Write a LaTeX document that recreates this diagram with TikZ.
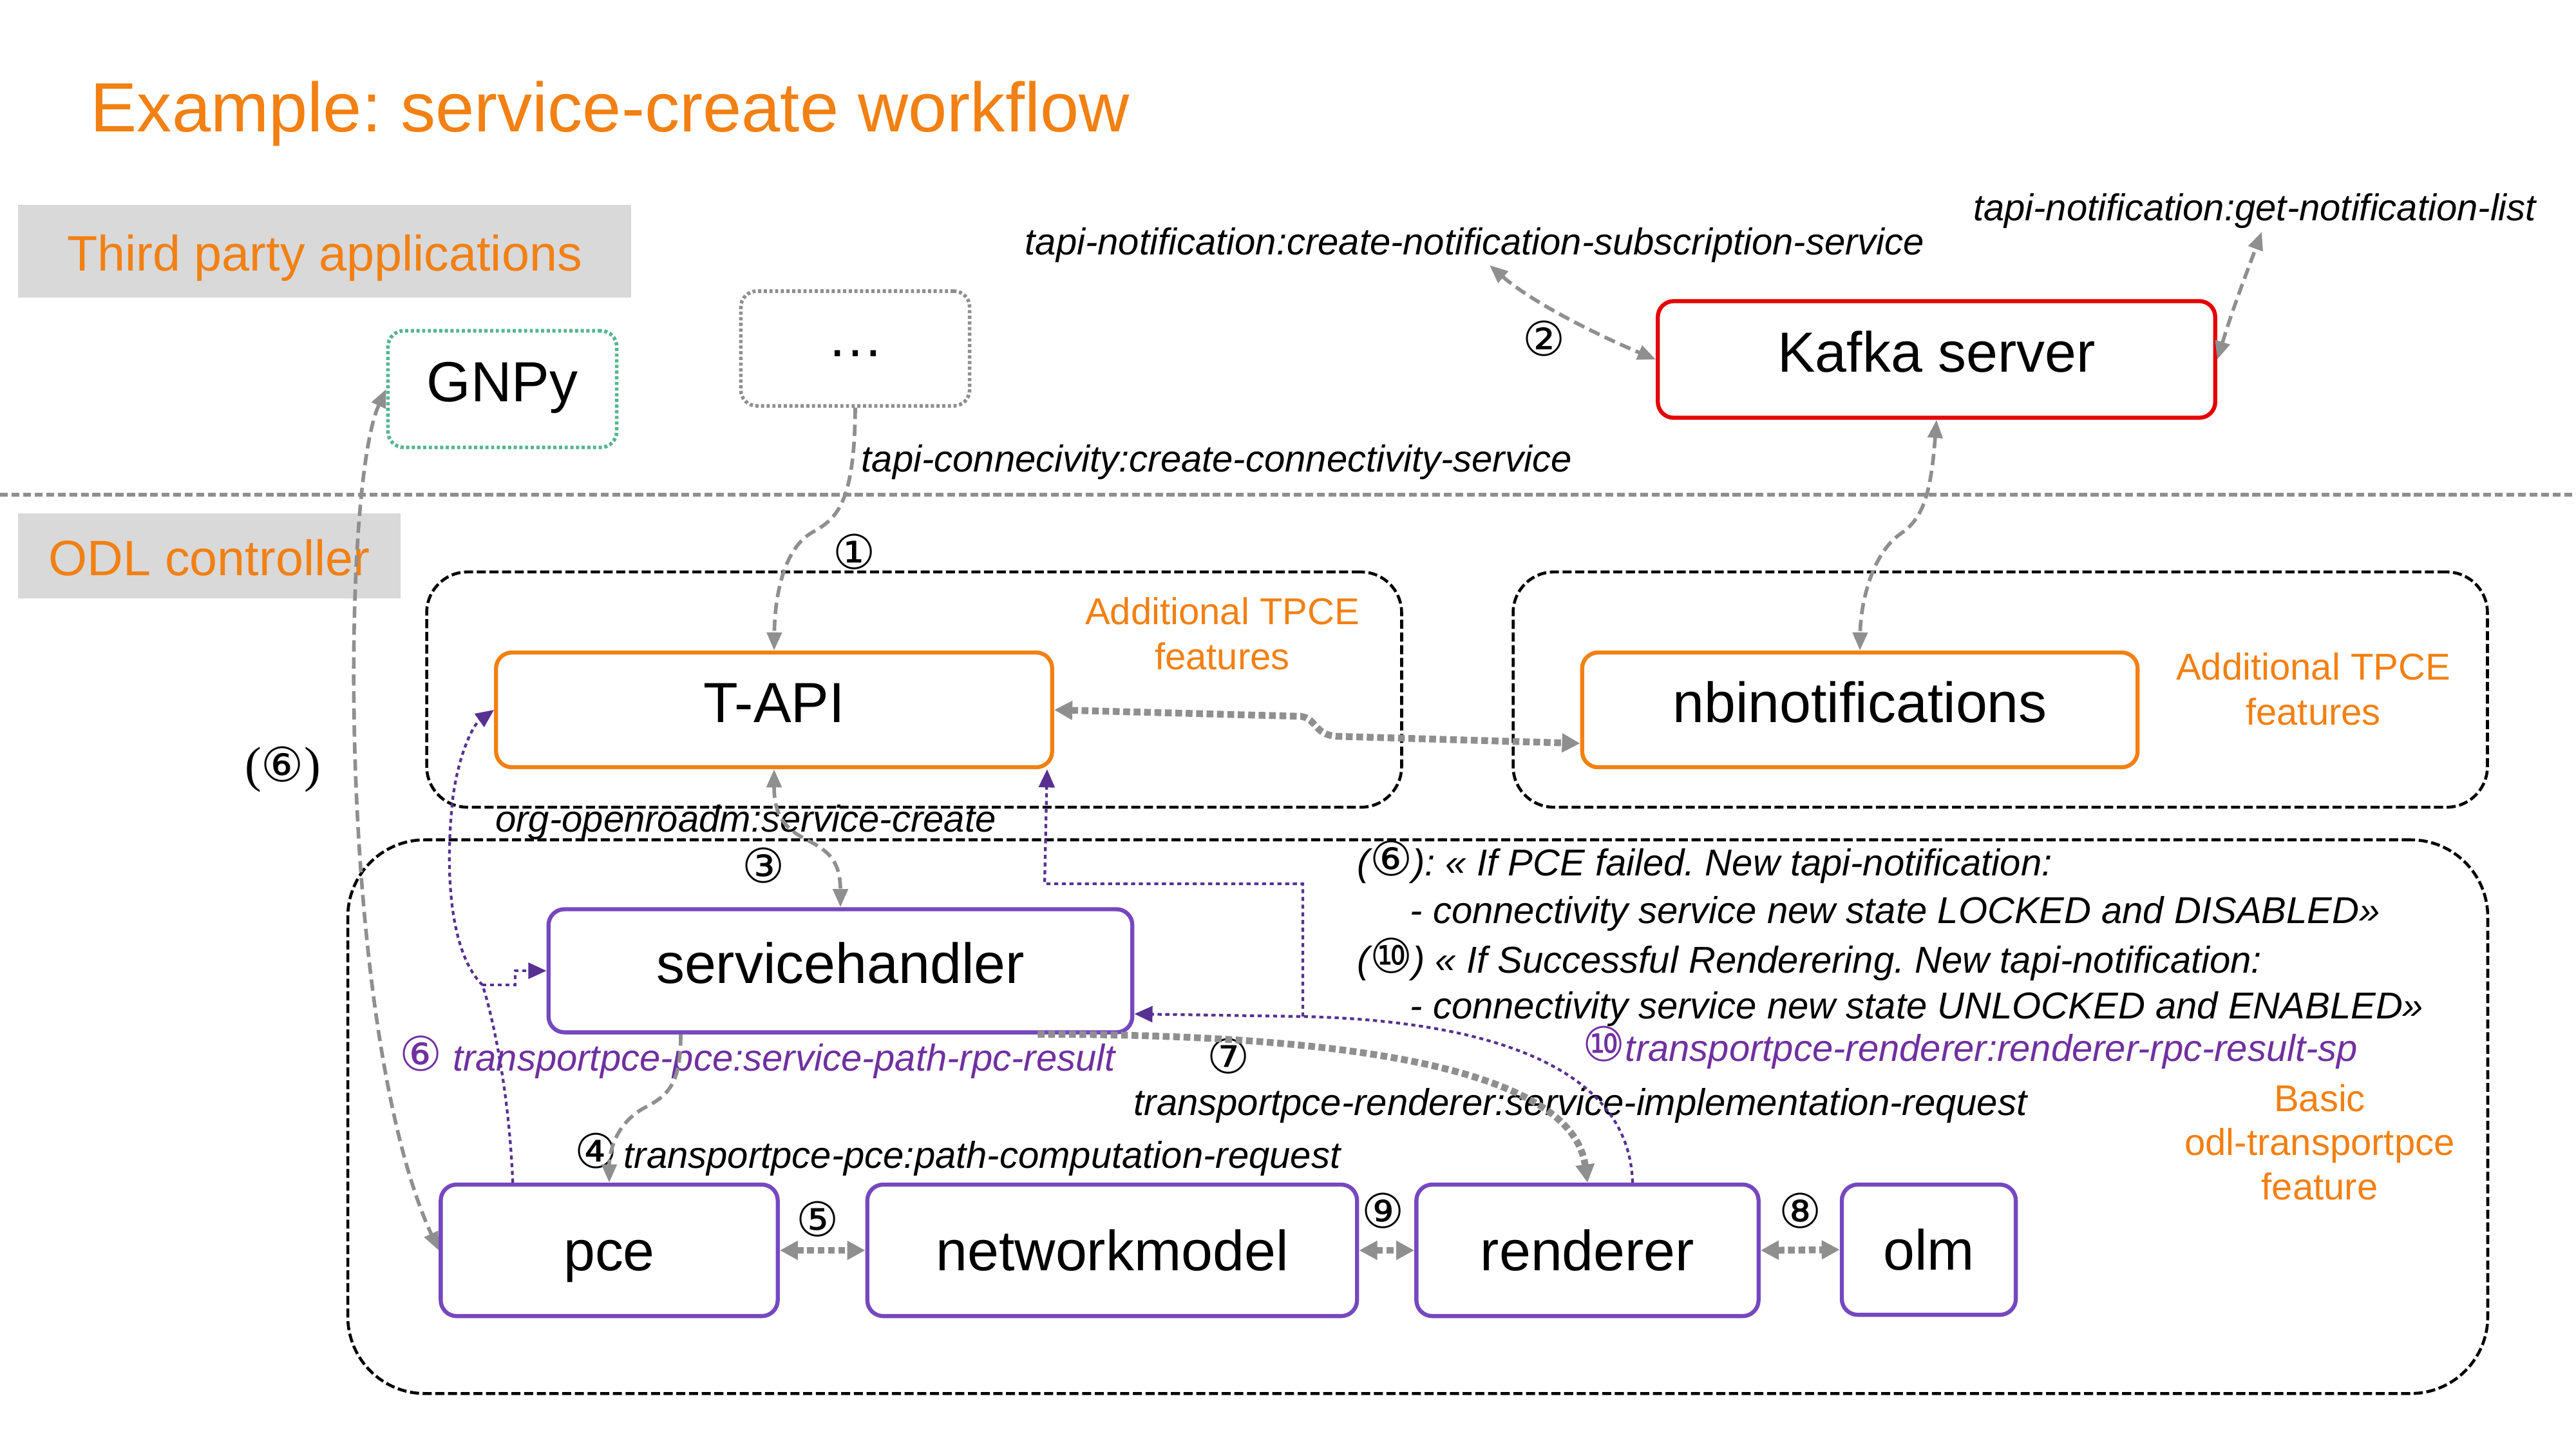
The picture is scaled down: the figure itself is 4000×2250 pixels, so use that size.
\documentclass[tikz,border=0pt]{standalone}
\usepackage{fontspec}
\setmainfont{Liberation Sans}
\newfontfamily\djv{DejaVu Sans}
\newfontfamily\serifpar{Liberation Serif}
\usetikzlibrary{arrows.meta,calc}
\frenchspacing
\definecolor{tporange}{RGB}{242,128,18}
\definecolor{tppurple}{RGB}{112,48,160}
\definecolor{boxpurple}{RGB}{118,72,190}
\definecolor{dpurple}{RGB}{88,48,145}
\definecolor{kred}{RGB}{228,0,0}
\definecolor{gngreen}{RGB}{84,182,142}
\definecolor{lgrey}{RGB}{143,143,143}
\definecolor{bggrey}{RGB}{217,217,217}
\newcommand{\circnum}[1]{{\djv\upshape\fontsize{21}{20}\selectfont #1}}
\tikzset{
  box/.style={draw, rounded corners=7pt, line width=1.8pt, fill=white, inner sep=0pt, text height=18.1pt, text depth=6.9pt, font=\fontsize{25}{30}\selectfont},
  lowbox/.style={box, draw=boxpurple, minimum height=2.04cm, text height=21.5pt, text depth=3.5pt},
  grp/.style={draw=black, line width=1.3pt, dash pattern=on 4pt off 1.6pt, rounded corners=18pt, inner sep=0pt},
  lbl/.style={inner sep=0pt, font=\fontsize{16.5}{20}\selectfont\itshape},
  num/.style={inner sep=0pt, font=\fontsize{21}{20}\selectfont\djv},
  otxt/.style={inner sep=0pt, text=tporange, align=center, font=\fontsize{16.5}{20}\selectfont},
  gconn/.style={draw=lgrey, line width=1.6pt, dash pattern=on 5pt off 2.5pt, >={Triangle[length=8pt,width=6.5pt]}},
  gthick/.style={draw=lgrey, line width=3pt, dash pattern=on 3pt off 1.6pt, >={Triangle[length=8pt,width=8pt]}},
  pdot/.style={draw=dpurple, line width=1.2pt, dash pattern=on 1.8pt off 1.6pt, >={Triangle[length=8pt,width=7pt]}},
  hdr/.style={fill=bggrey, inner sep=0pt, text=tporange, text height=19.6pt, text depth=2.4pt, font=\fontsize{22}{26}\selectfont}
}
\begin{document}
\begin{tikzpicture}[x=0.01cm,y=-0.01cm]
\useasboundingbox (0,0) rectangle (4000,2250);

% title and headers
\node[anchor=base west, inner sep=0pt, text=tporange, font=\fontsize{30.8}{36}\selectfont] (title) at (140,204) {Example: service-create workflow};
\node[hdr, minimum width=9.52cm, minimum height=1.43cm] (third) at (504,390) {Third party applications};
\node[hdr, minimum width=5.94cm, minimum height=1.31cm] (odl) at (325,863) {ODL controller};
\coordinate (sepL) at (0,768);
\coordinate (sepR) at (4000,768);
\draw[draw=lgrey, line width=1.6pt, dash pattern=on 3.5pt off 1.6pt] (sepL) -- (sepR);

% groups
\node[grp, minimum width=15.13cm, minimum height=3.65cm] (g1) at (1419.5,1070.5) {};
\node[grp, minimum width=15.12cm, minimum height=3.65cm] (g2) at (3106,1070.5) {};
\node[grp, rounded corners=34pt, minimum width=33.21cm, minimum height=8.59cm] (g3) at (2201.5,1733.5) {};

% top boxes
\node[box, draw=gngreen, dash pattern=on 1.4pt off 1.1pt, line width=1.6pt, minimum width=3.55cm, minimum height=1.81cm] (gnpy) at (780,604) {GNPy};
\node[box, draw=lgrey, dash pattern=on 1.4pt off 1.1pt, line width=1.6pt, minimum width=3.55cm, minimum height=1.78cm] (dots) at (1328,541) {\raisebox{2pt}{…}};
\node[box, draw=kred, minimum width=8.65cm, minimum height=1.81cm] (kafka) at (3007,558) {Kafka server};

% odl boxes
\node[box, draw=tporange, minimum width=8.63cm, minimum height=1.78cm] (tapi) at (1202,1102) {T-API};
\node[box, draw=tporange, minimum width=8.62cm, minimum height=1.78cm] (nbi) at (2888,1102) {nbinotifications};
\node[box, draw=boxpurple, minimum width=9.06cm, minimum height=1.91cm] (shandler) at (1305,1507) {servicehandler};
\node[lowbox, minimum width=5.23cm] (pce) at (946,1941) {pce};
\node[lowbox, minimum width=7.60cm] (nm) at (1727,1941) {networkmodel};
\node[lowbox, minimum width=5.31cm] (rend) at (2465,1941) {renderer};
\node[lowbox, minimum width=2.70cm, minimum height=2.02cm] (olm) at (2995,1940) {olm};

% labels
\node[lbl] (sub) at (2290,380) {tapi-notification:create-notification-subscription-service};
\node[lbl] (get) at (3501,327) {tapi-notification:get-notification-list};
\node[num] (n2) at (2398,526) {②};
\node[lbl, anchor=west] (conn) at (1337,717) {tapi-connecivity:create-connectivity-service};
\node[num] (n1) at (1327,857) {①};
\node[otxt] (add1) at (1898,984) {Additional TPCE\\features};
\node[otxt] (add2) at (3592,1070) {Additional TPCE\\features};
\node[inner sep=0pt, font=\fontsize{22}{26}\selectfont] (n6big) at (439,1194) {{\serifpar(}\circnum{⑥}{\serifpar)}};
\node[lbl] (osc) at (1158,1276) {org-openroadm:service-create};
\node[num] (n3) at (1186,1344) {③};
\node[lbl, anchor=base west] (note1) at (2107,1359) {(\circnum{⑥}): « If PCE failed. New tapi-notification:};
\node[lbl, anchor=base west] (note2) at (2189,1433) {- connectivity service new state LOCKED and DISABLED»};
\node[lbl, anchor=base west] (note3) at (2107,1510) {(\circnum{⑩}) « If Successful Renderering. New tapi-notification:};
\node[lbl, anchor=base west] (note4) at (2189,1581) {- connectivity service new state UNLOCKED and ENABLED»};
\node[lbl, anchor=base west, text=tppurple] (l10) at (2457,1647) {\circnum{⑩}transportpce-renderer:renderer-rpc-result-sp};
\node[otxt, font=\fontsize{16.5}{19.4}\selectfont] (basic) at (3602,1773) {Basic\\odl-transportpce\\feature};
\node[lbl, anchor=base west, text=tppurple] (l6) at (620,1662) {\circnum{⑥} transportpce-pce:service-path-rpc-result};
\node[num] (n7) at (1908,1640) {⑦};
\node[lbl, anchor=west] (l7) at (1760,1716) {transportpce-renderer:service-implementation-request};
\node[lbl, anchor=base west] (l4) at (892,1813) {\circnum{④}\,transportpce-pce:path-computation-request};
\node[num] (n5) at (1270,1893) {⑤};
\node[num] (n9) at (2148,1880) {⑨};
\node[num] (n8) at (2796,1880) {⑧};

% grey connectors
\draw[gconn,->] (dots.south) .. controls (1327,780) and (1300,805) .. (1262,826) .. controls (1215,852) and (1203,930) .. (tapi.north);
\draw[gconn,<->] (kafka.south) .. controls (2998,770) and (2985,805) .. (2952,828) .. controls (2905,860) and (2889,940) .. (nbi.north);
\draw[gconn,<->] ($(sub.south)+(23,4)$) .. controls (2380,470) and (2480,520) .. (kafka.west);
\draw[gconn,<->] (kafka.east) .. controls (3470,470) and (3490,420) .. ($(get.south)+(11,5)$);
\draw[gconn,<->] (tapi.south) .. controls (1202,1330) and (1305,1280) .. (shandler.north);
\draw[gthick,<->] (tapi.east) -- (2020,1112) .. controls (2045,1116) and (2040,1140) .. (2075,1143) -- ($(nbi.west)+(0,52)$);
\draw[gconn,<->] (gnpy.west) .. controls (528,760) and (525,1600) .. (pce.west);
\draw[gconn,->] ($(shandler.south)+(-248,0)$) .. controls (1057,1680) and (1040,1700) .. (1000,1720) .. controls (955,1745) and (946,1790) .. (pce.north);
\draw[gthick,->] ($(shandler.south east)+(-150,0)$) .. controls (2050,1605) and (2440,1650) .. (rend.north);
\draw[gthick,<->] (pce.east) -- (nm.west);
\draw[gthick,<->] (nm.east) -- (rend.west);
\draw[gthick,<->] (rend.east) -- (olm.west);

% purple connectors
\coordinate (p6a) at (749,1529);
\coordinate (p6b) at (800,1529);
\coordinate (p6c) at (800,1507);
\draw[pdot,->] ($(pce.north west)+(115,0)$) .. controls (790,1680) and (760,1560) .. (p6a) .. controls (700,1480) and (690,1360) .. (703,1240) .. controls (712,1170) and (735,1125) .. (tapi.west);
\draw[pdot,->] (p6a) -- (p6b) -- (p6c) -- (shandler.west);
\coordinate (p10) at (2023,1578);
\coordinate (p10b) at (2023,1372);
\coordinate (p10c) at (1622,1372);
\draw[pdot,->] ($(rend.north)+(70,0)$) .. controls (2530,1660) and (2320,1585) .. (p10) -- ($(shandler.east)+(0,67)$);
\draw[pdot,->] (p10) -- (p10b) -- (p10c) -- ($(tapi.south east)+(-11,0)$);
\end{tikzpicture}
\end{document}
